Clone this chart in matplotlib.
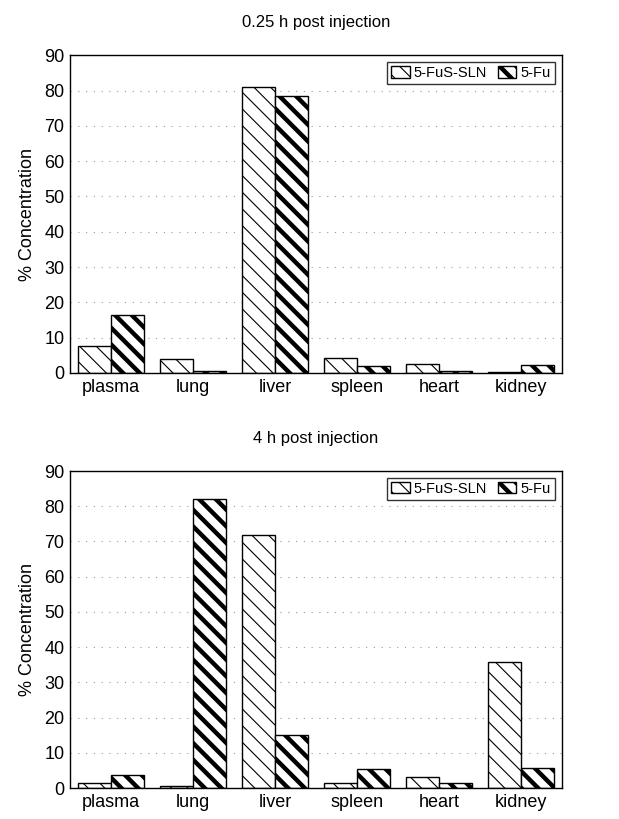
import numpy as np
import matplotlib as mpl
mpl.use("Agg")
import matplotlib.pyplot as plt

mpl.rcParams.update({"font.family": "sans-serif",
                     "font.sans-serif": ["Liberation Sans", "DejaVu Sans"],
                     "hatch.linewidth": 0.8})

organs = ["plasma", "lung", "liver", "spleen", "heart", "kidney"]
series = ["5-FuS-SLN", "5-Fu"]
sln_025h = [7.7, 4.0, 81.0, 4.3, 2.5, 0.3]
fu_025h = [16.3, 0.7, 78.5, 2.0, 0.7, 2.2]
sln_4h = [1.5, 0.7, 71.7, 1.3, 3.0, 35.7]
fu_4h = [3.7, 82.0, 15.0, 5.5, 1.5, 5.7]
titles = ["0.25 h post injection", "4 h post injection"]
yticks = list(range(0, 91, 10))

fig = plt.figure(figsize=(6.19, 8.19), dpi=100)
ax1 = fig.add_axes([0.113, 0.5446, 0.795, 0.388])
ax2 = fig.add_axes([0.113, 0.0378, 0.795, 0.3871])


def thick(p):
    if hasattr(p, "set_hatch_linewidth"): p.set_hatch_linewidth(3.2)


def panel(ax, a, b, title):
    x = np.arange(len(organs)); w = 0.4
    ax.bar(x - w/2, a, w, color="white", edgecolor="black", lw=1.0, hatch="\\\\", label=series[0])
    b2 = ax.bar(x + w/2, b, w, color="white", edgecolor="black", lw=1.0, hatch="\\\\", label=series[1])
    for p in b2: thick(p)
    ax.set_xlim(-0.5, 5.5); ax.set_ylim(0, 90)
    ax.set_yticks(yticks); ax.set_xticks(x); ax.set_xticklabels(organs)
    ax.tick_params(length=0, labelsize=13, pad=4)
    ax.grid(axis="y", ls=(0, (1, 6)), color="#999999", lw=0.8)
    ax.set_axisbelow(True)
    for s in ax.spines.values(): s.set_linewidth(1.0)
    ax.set_ylabel("% Concentration", fontsize=13, labelpad=6)
    ax.set_title(title, fontsize=12, pad=20)
    lg = ax.legend(loc="upper right", ncol=2, fontsize=10.5, frameon=True, fancybox=False, edgecolor="black",
                   handlelength=1.3, handleheight=0.8, handletextpad=0.3, columnspacing=0.7,
                   borderpad=0.25, borderaxespad=0.5)
    lg.get_frame().set_linewidth(1.0)
    thick(lg.legend_handles[1])


panel(ax1, sln_025h, fu_025h, titles[0])
panel(ax2, sln_4h, fu_4h, titles[1])
fig.savefig("out.png", dpi=100)
